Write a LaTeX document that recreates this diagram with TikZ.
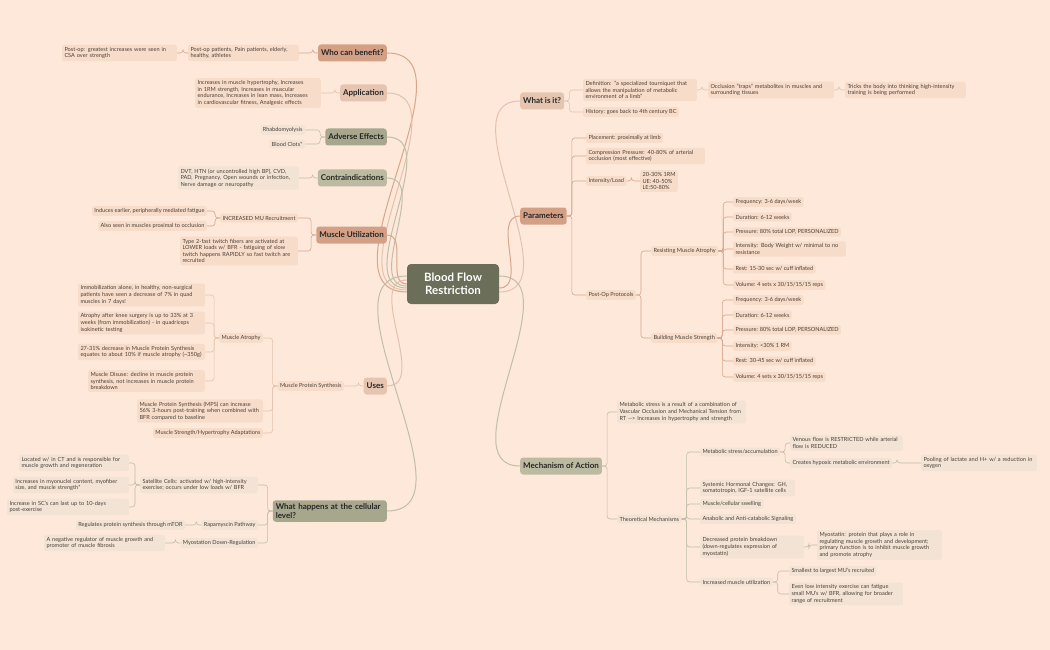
\documentclass[tikz,border=0pt]{standalone}
\usepackage{fontspec}
\setmainfont{Lato}
\usetikzlibrary{backgrounds}
\begin{document}
\hyphenpenalty=10000 \exhyphenpenalty=10000
\definecolor{bgc}{HTML}{FDE8DA}
\definecolor{ctr}{HTML}{6B6E58}
\definecolor{terra}{HTML}{D4A085}
\definecolor{lterra}{HTML}{E5C5B0}
\definecolor{olive}{HTML}{A7A78D}
\definecolor{lolive}{HTML}{BCBBA2}
\definecolor{leafT}{HTML}{F7DCCA}
\definecolor{leafO}{HTML}{F2E3D4}
\definecolor{lnT}{HTML}{D8A68C}
\definecolor{lnL}{HTML}{E3C2AD}
\definecolor{lnO}{HTML}{C0BEA8}
\definecolor{txt}{HTML}{4A4038}
\newcommand\cR[3]{\draw[#1] (#2.east) -- ++(5,0) |- (#3.west);}
\newcommand\cL[3]{\draw[#1] (#2.west) -- ++(-5,0) |- (#3.east);}
\begin{tikzpicture}[x=1pt,y=-1pt,
  every node/.style={text=txt},
  leaf/.style={fill=leafT, rounded corners=2, inner sep=2.3pt, align=left, font=\fontsize{5.6}{6.6}\selectfont},
  leafo/.style={leaf, fill=leafO},
  R/.style={anchor=west}, L/.style={anchor=east},
  main/.style={rounded corners=3, inner sep=3pt, minimum height=17pt, font=\fontsize{8}{9.5}\selectfont\bfseries, text=black!85},
  T/.style={draw=lnT, rounded corners=3, line width=0.6pt},
  Ll/.style={draw=lnL, rounded corners=3, line width=0.6pt},
  O/.style={draw=lnO, rounded corners=3, line width=0.6pt},
  cv/.style={line width=1pt}]
\node[fill=ctr, rounded corners=4, minimum width=92pt, minimum height=40pt, align=center, text=white, font=\fontsize{11.5}{13.5}\selectfont\bfseries] (C) at (453,284) {Blood Flow\\Restriction};

% ---------- left main nodes
\node[main, fill=terra, anchor=east] (who) at (387,53) {Who can benefit?};
\node[main, fill=lterra, anchor=east] (app) at (387,93) {Application};
\node[main, fill=olive, anchor=east] (adv) at (387,137) {Adverse Effects};
\node[main, fill=lolive, anchor=east] (con) at (387,178) {Contraindications};
\node[main, fill=terra, anchor=east] (mu) at (387,235) {Muscle Utilization};
\node[main, fill=lterra, anchor=east] (uses) at (387,386) {Uses};
\node[main, fill=olive, anchor=east, align=left, text width=108pt] (cell) at (387,511) {What happens at the cellular level?};
% ---------- right main nodes
\node[main, fill=lterra, anchor=west] (what) at (520,101) {What is it?};
\node[main, fill=terra, anchor=west] (par) at (520,216) {Parameters};
\node[main, fill=lolive, anchor=west] (mech) at (520,466) {Mechanism of Action};

\begin{scope}[on background layer]
\fill[bgc] (0,0) rectangle (1050,650);
\draw[cv, lnT] ([yshift=-8pt]C.west) to[out=180,in=0] (who.east);
\draw[cv, lnL] ([yshift=-6pt]C.west) to[out=180,in=0] (app.east);
\draw[cv, lnO] ([yshift=-4pt]C.west) to[out=180,in=0] (adv.east);
\draw[cv, lnO] ([yshift=-2pt]C.west) to[out=180,in=0] (con.east);
\draw[cv, lnT] (C.west) to[out=180,in=0] (mu.east);
\draw[cv, lnL] ([yshift=4pt]C.west) to[out=180,in=0] (uses.east);
\draw[cv, lnO] ([yshift=8pt]C.west) to[out=180,in=0] (cell.east);
\draw[cv, lnL] ([yshift=-8pt]C.east) to[out=0,in=180] (what.west);
\draw[cv, lnT] ([yshift=-4pt]C.east) to[out=0,in=180] (par.west);
\draw[cv, lnO] ([yshift=8pt]C.east) to[out=0,in=180] (mech.west);
\end{scope}

% ---------- Who can benefit
\node[leaf, L, text width=106pt] (w1) at (299,53) {Post-op patients, Pain patients, elderly, healthy, athletes};
\node[leaf, L, text width=110pt] (w2) at (177,53) {Post-op: greatest increases were seen in CSA over strength};
\cL{T}{who}{w1} \cL{T}{w1}{w2}
% ---------- Application
\node[leaf, L, text width=121pt] (a1) at (321,93) {Increases in muscle hypertrophy, Increases in 1RM strength, Increases in muscular endurance, Increases in lean mass, Increases in cardiovascular fitness, Analgesic effects};
\cL{Ll}{app}{a1}
% ---------- Adverse
\node[leafo, L] (ad1) at (305,130) {Rhabdomyolysis};
\node[leafo, L] (ad2) at (305,144) {Blood Clots*};
\cL{O}{adv}{ad1} \cL{O}{adv}{ad2}
% ---------- Contra
\node[leafo, L, text width=116pt] (c1) at (299,178) {DVT, HTN (or uncontrolled high BP), CVD, PAD, Pregnancy, Open wounds or infection, Nerve damage or neuropathy};
\cL{O}{con}{c1}
% ---------- Muscle Utilization
\node[leaf, L] (m1) at (298,218) {INCREASED MU Recruitment};
\node[leaf, L, text width=113pt] (m2) at (298,251) {Type 2-fast twitch fibers are activated at LOWER loads w/ BFR - fatiguing of slow twitch happens RAPIDLY so fast twitch are recruited};
\node[leaf, L] (m11) at (207,211) {Induces earlier, peripherally mediated fatigue};
\node[leaf, L] (m12) at (207,226) {Also seen in muscles proximal to occlusion};
\cL{T}{mu}{m1} \cL{T}{mu}{m2} \cL{T}{m1}{m11} \cL{T}{m1}{m12}
% ---------- Uses
\node[leaf, L] (u1) at (344,386) {Muscle Protein Synthesis};
\node[leaf, L] (u11) at (263,338) {Muscle Atrophy};
\node[leaf, L, text width=121pt] (u12) at (263,411) {Muscle Protein Synthesis (MPS) can increase 56\% 3-hours post-training when combined with BFR compared to baseline};
\node[leaf, L] (u13) at (263,433) {Muscle Strength/Hypertrophy Adaptations};
\node[leaf, L, text width=122pt] (u111) at (205,295) {Immobilization alone, in healthy, non-surgical patients have seen a decrease of 7\% in quad muscles in 7 days!};
\node[leaf, L, text width=122pt] (u112) at (205,323) {Atrophy after knee surgery is up to 33\% at 3 weeks (from immobilization) - in quadriceps isokinetic testing};
\node[leaf, L, text width=122pt] (u113) at (205,352) {27-31\% decrease in Muscle Protein Synthesis equates to about 10\% if muscle atrophy (\textasciitilde350g)};
\node[leaf, L, text width=112pt] (u114) at (205,381) {Muscle Disuse: decline in muscle protein synthesis, not increases in muscle protein breakdown};
\cL{Ll}{uses}{u1} \cL{Ll}{u1}{u11} \cL{Ll}{u1}{u12} \cL{Ll}{u1}{u13}
\cL{Ll}{u11}{u111} \cL{Ll}{u11}{u112} \cL{Ll}{u11}{u113} \cL{Ll}{u11}{u114}
% ---------- Cellular
\node[leafo, L, text width=113pt] (s1) at (258,485) {Satellite Cells: activated w/ high-intensity exercise; occurs under low loads w/ BFR};
\node[leafo, L] (s2) at (258,525) {Rapamyscin Pathway};
\node[leafo, L] (s3) at (258,543) {Myostation Down-Regulation};
\node[leafo, L, text width=105pt] (s11) at (129,463) {Located w/ in CT and is responsible for muscle growth and regeneration};
\node[leafo, L, text width=111pt] (s12) at (129,485) {Increases in myonuclei content, myofiber size, and muscle strength*};
\node[leafo, L, text width=117pt] (s13) at (129,507) {Increase in SC's can last up to 10-days post-exercise};
\node[leafo, L] (s21) at (185,525) {Regulates protein synthesis through mTOR};
\node[leafo, L, text width=116pt] (s31) at (165,543) {A negative regulator of muscle growth and promoter of muscle fibrosis};
\cL{O}{cell}{s1} \cL{O}{cell}{s2} \cL{O}{cell}{s3}
\cL{O}{s1}{s11} \cL{O}{s1}{s12} \cL{O}{s1}{s13}
\cL{O}{s2}{s21} \cL{O}{s3}{s31}

% ---------- What is it
\node[leaf, R, text width=109pt] (d1) at (583,90) {Definition: "a specialized tourniquet that allows the manipulation of metabolic environment of a limb"};
\node[leaf, R] (d2) at (583,112) {History: goes back to 4th century BC};
\node[leaf, R, text width=121pt] (d11) at (708,90) {Occlusion "traps" metabolites in muscles and surrounding tissues};
\node[leaf, R, text width=116pt] (d111) at (845,90) {Tricks the body into thinking high-intensity training is being performed};
\cR{Ll}{what}{d1} \cR{Ll}{what}{d2} \cR{Ll}{d1}{d11} \cR{Ll}{d11}{d111}
% ---------- Parameters
\node[leaf, R] (p1) at (586,138) {Placement: proximally at limb};
\node[leaf, R, text width=114pt] (p2) at (586,156) {Compression Pressure: 40-80\% of arterial occlusion (most effective)};
\node[leaf, R] (p3) at (586,181) {Intensity/Load};
\node[leaf, R, align=left] (p31) at (640,181) {20-30\% 1RM\\UE: 40-50\%\\LE:50-80\%};
\node[leaf, R] (p4) at (586,295) {Post-Op Protocols};
\node[leaf, R] (p41) at (651,251) {Resisting Muscle Atrophy};
\node[leaf, R] (p42) at (651,338) {Building Muscle Strength};
\cR{T}{par}{p1} \cR{T}{par}{p2} \cR{T}{par}{p3} \cR{T}{par}{p4}
\cR{T}{p3}{p31} \cR{T}{p4}{p41} \cR{T}{p4}{p42}
\node[leaf, R] (r1) at (733,202) {Frequency: 3-6 days/week};
\node[leaf, R] (r2) at (733,217) {Duration: 6-12 weeks};
\node[leaf, R] (r3) at (733,232) {Pressure: 80\% total LOP, PERSONALIZED};
\node[leaf, R, text width=108pt] (r4) at (733,249) {Intensity: Body Weight w/ minimal to no resistance};
\node[leaf, R] (r5) at (733,269) {Rest: 15-30 sec w/ cuff inflated};
\node[leaf, R] (r6) at (733,285) {Volume: 4 sets x 30/15/15/15 reps};
\node[leaf, R] (b1) at (733,300) {Frequency: 3-6 days/week};
\node[leaf, R] (b2) at (733,315) {Duration: 6-12 weeks};
\node[leaf, R] (b3) at (733,330) {Pressure: 80\% total LOP, PERSONALIZED};
\node[leaf, R] (b4) at (733,346) {Intensity: <30\% 1 RM};
\node[leaf, R] (b5) at (733,361) {Rest: 30-45 sec w/ cuff inflated};
\node[leaf, R] (b6) at (733,377) {Volume: 4 sets x 30/15/15/15 reps};
\foreach \n in {r1,r2,r3,r4,r5,r6}{\cR{T}{p41}{\n}}
\foreach \n in {b1,b2,b3,b4,b5,b6}{\cR{T}{p42}{\n}}
% ---------- Mechanism
\node[leafo, R, text width=124pt] (x1) at (617,412) {Metabolic stress is a result of a combination of Vascular Occlusion and Mechanical Tension from RT {-}{-}> Increases in hypertrophy and strength};
\node[leafo, R] (x2) at (617,519) {Theoretical Mechanisms};
\cR{O}{mech}{x1} \cR{O}{mech}{x2}
\node[leafo, R] (t1) at (700,452) {Metabolic stress/accumulation};
\node[leafo, R, text width=90pt] (t2) at (700,488) {Systemic Hormonal Changes: GH, somatotropin, IGF-1 satellite cells};
\node[leafo, R] (t3) at (700,504) {Muscle/cellular swelling};
\node[leafo, R] (t4) at (700,519) {Anabolic and Anti-catabolic Signaling};
\node[leafo, R, text width=99pt] (t5) at (700,547) {Decreased protein breakdown (down-regulates expression of myostatin)};
\node[leafo, R] (t6) at (700,582) {Increased muscle utilization};
\foreach \n in {t1,t2,t3,t4,t5,t6}{\cR{O}{x2}{\n}}
\node[leafo, R, text width=108pt] (t11) at (790,443) {Venous flow is RESTRICTED while arterial flow is REDUCED};
\node[leafo, R] (t12) at (790,463) {Creates hypoxic metabolic environment};
\node[leafo, R, text width=111pt] (t121) at (921,463) {Pooling of lactate and H+ w/ a reduction in oxygen};
\node[leafo, R, text width=120pt] (t51) at (817,545) {Myostatin: protein that plays a role in regulating muscle growth and development; primary function is to inhibit muscle growth and promote atrophy};
\node[leafo, R] (t61) at (789,571) {Smallest to largest MU's recruited};
\node[leafo, R, text width=109pt] (t62) at (789,594) {Even low intensity exercise can fatigue small MU's w/ BFR, allowing for broader range of recruitment};
\cR{O}{t1}{t11} \cR{O}{t1}{t12} \cR{O}{t12}{t121} \cR{O}{t5}{t51} \cR{O}{t6}{t61} \cR{O}{t6}{t62}
\end{tikzpicture}
\end{document}
